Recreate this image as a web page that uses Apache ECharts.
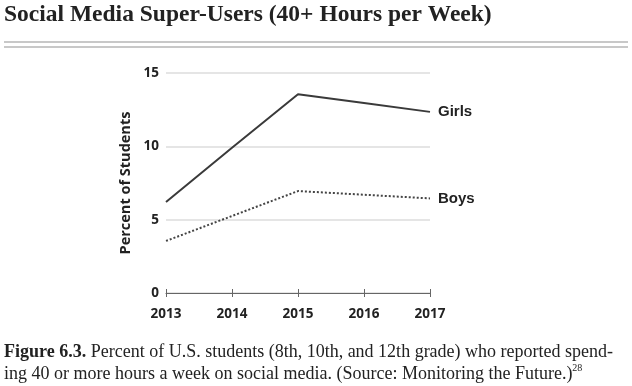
<!DOCTYPE html>
<html><head><meta charset="utf-8">
<script src="https://cdn.jsdelivr.net/npm/echarts@6/dist/echarts.min.js"></script>
<style>html,body{margin:0;padding:0;background:#fff}#c{width:632px;height:386px}</style>
</head><body><div id="c"></div>
<script>
var years = ['2013','2014','2015','2016','2017'];
var girls = [6.2, 9.9, 13.55, 12.95, 12.35];
var boys = [3.55, 5.25, 6.95, 6.7, 6.45];
var yTicks = [0, 5, 10, 15];
var titleText = 'Social Media Super-Users (40+ Hours per Week)';
var captionBold = 'Figure 6.3.';
var captionLine1 = ' Percent of U.S. students (8th, 10th, and 12th grade) who reported spend-';
var captionLine2 = 'ing 40 or more hours a week on social media. (Source: Monitoring the Future.)';

var chart = echarts.init(document.getElementById('c'), null, {renderer:'canvas'});
var sans = '"Open Sans", sans-serif';
chart.setOption({
  animation:false,
  grid:{left:166, right:202, top:73, bottom:93},
  graphic:[
    {type:'text', left:4, top:3, style:{text:titleText, font:'bold 23.5px "Liberation Serif", serif', fill:'#222'}},
    {type:'rect', shape:{x:4,y:41,width:624,height:2}, style:{fill:'#c8c8c8'}},
    {type:'rect', shape:{x:4,y:46,width:624,height:2}, style:{fill:'#c8c8c8'}},
    {type:'text', left:4, top:341, style:{
      rich:{b:{font:'bold 18px "Liberation Serif", serif', fill:'#222'}, n:{font:'18px "Liberation Serif", serif', fill:'#222'}, s:{font:'10px "Liberation Serif", serif', fill:'#222', verticalAlign:'top', padding:[0,0,9,0]}},
      text:'{b|'+captionBold+'}{n|'+captionLine1+'}\n{n|'+captionLine2+'}{s|28}', lineHeight:22}}
  ],
  xAxis:[{
    type:'category', data:years, boundaryGap:false, position:'bottom',
    axisLine:{lineStyle:{color:'#666', width:1}},
    axisTick:{show:true, length:4, lineStyle:{color:'#666'}},
    axisLabel:{color:'#222', fontFamily:sans, fontWeight:'bold', fontSize:13.5, margin:14},
    splitLine:{show:false}
  },{
    type:'category', data:years, boundaryGap:false, position:'bottom', gridIndex:0,
    axisLine:{show:false},
    axisTick:{show:true, inside:true, length:4, lineStyle:{color:'#666'}},
    axisLabel:{show:false}, splitLine:{show:false}
  }],
  yAxis:{
    type:'value', min:0, max:15, interval:5,
    name:'Percent of Students', nameLocation:'middle', nameRotate:90, nameGap:33,
    nameTextStyle:{color:'#222', fontFamily:sans, fontWeight:'bold', fontSize:14.5},
    axisLine:{show:false}, axisTick:{show:false},
    axisLabel:{color:'#222', fontFamily:sans, fontWeight:'bold', fontSize:13.5, margin:7},
    splitLine:{lineStyle:{color:'#dcdcdc', width:1.5}}
  },
  series:[
    {name:'Girls', type:'line', data:girls, symbol:'none', xAxisIndex:0,
     lineStyle:{color:'#3a3a3a', width:2},
     endLabel:{show:true, formatter:'{a}', color:'#222', fontFamily:'"Liberation Sans", Arial, sans-serif', fontWeight:'bold', fontSize:15, distance:8}},
    {name:'Boys', type:'line', data:boys, symbol:'none', xAxisIndex:0,
     lineStyle:{color:'#444', width:2, type:[2,2]},
     endLabel:{show:true, formatter:'{a}', color:'#222', fontFamily:'"Liberation Sans", Arial, sans-serif', fontWeight:'bold', fontSize:15, distance:8}}
  ]
});
</script></body></html>
